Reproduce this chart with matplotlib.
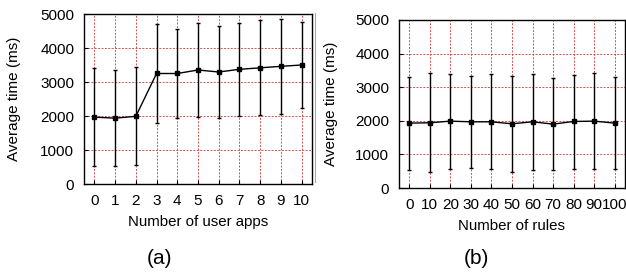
import matplotlib
matplotlib.use('Agg')
import matplotlib.pyplot as plt
import numpy as np
from matplotlib.lines import Line2D

plt.rcParams['font.family'] = ['Liberation Sans', 'DejaVu Sans']

# (a) number of user apps
apps = [0, 1, 2, 3, 4, 5, 6, 7, 8, 9, 10]
apps_mean = [1966, 1937, 1990, 3250, 3250, 3353, 3294, 3373, 3417, 3461, 3500]
apps_std = [1446, 1417, 1441, 1456, 1309, 1382, 1353, 1373, 1397, 1392, 1265]

# (b) number of rules
rules = [0, 10, 20, 30, 40, 50, 60, 70, 80, 90, 100]
rules_mean = [1931, 1941, 1990, 1970, 1970, 1911, 1970, 1901, 1980, 1990, 1931]
rules_upper = [3317, 3416, 3396, 3327, 3386, 3347, 3406, 3287, 3376, 3416, 3307]
rules_lower = [535, 485, 564, 594, 564, 485, 525, 525, 574, 574, 574]

yticks = [0, 1000, 2000, 3000, 4000, 5000]

fig = plt.figure(figsize=(6.26, 2.72), dpi=100)
W, H = 626, 272
ax1 = fig.add_axes([84 / W, 1 - 184 / H, (312 - 84) / W, (184 - 14) / H])
ax2 = fig.add_axes([399 / W, 1 - 188 / H, (625 - 399) / W, (188 - 20) / H])


def style(ax, xticks, xlim, ylab_x):
    ax.set_xlim(*xlim)
    ax.set_ylim(0, 5000)
    ax.set_xticks(xticks)
    ax.set_yticks(yticks)
    ax.grid(True, color='#cc3333', linestyle=(0, (2, 1.5)), linewidth=0.7, alpha=0.85)
    ax.set_axisbelow(True)
    ax.tick_params(direction='in', length=3, width=0.8, labelsize=11, pad=7)
    for s in ax.spines.values():
        s.set_linewidth(1.0)
    ax.set_ylabel('Average time (ms)', fontsize=11)
    ax.yaxis.set_label_coords(ylab_x, 0.5)


ax1.errorbar(apps, apps_mean, yerr=apps_std, color='black', linewidth=1,
             elinewidth=1, capsize=1.5, marker='s', markersize=3)
style(ax1, apps, (-0.5, 10.5), -0.275)
ax1.set_xlabel('Number of user apps', fontsize=10.8, labelpad=5)

rm = np.array(rules_mean)
rerr = [rm - np.array(rules_lower), np.array(rules_upper) - rm]
ax2.errorbar(rules, rules_mean, yerr=rerr, color='black', linewidth=1,
             elinewidth=1, capsize=1.5, marker='s', markersize=3)
style(ax2, rules, (-5, 105), -0.27)
ax2.set_xlabel('Number of rules', fontsize=10.8, labelpad=5)

fig.text(160 / W, 1 - 258 / H, '(a)', fontsize=15, ha='center', va='center')
fig.text(476 / W, 1 - 258 / H, '(b)', fontsize=15, ha='center', va='center')

# thin grey separator between the two panels
fig.add_artist(Line2D([315 / W, 315 / W], [1 - 182 / H, 1 - 13 / H],
                      color='#aaaaaa', linewidth=0.8))

fig.savefig('out.png', dpi=100)
